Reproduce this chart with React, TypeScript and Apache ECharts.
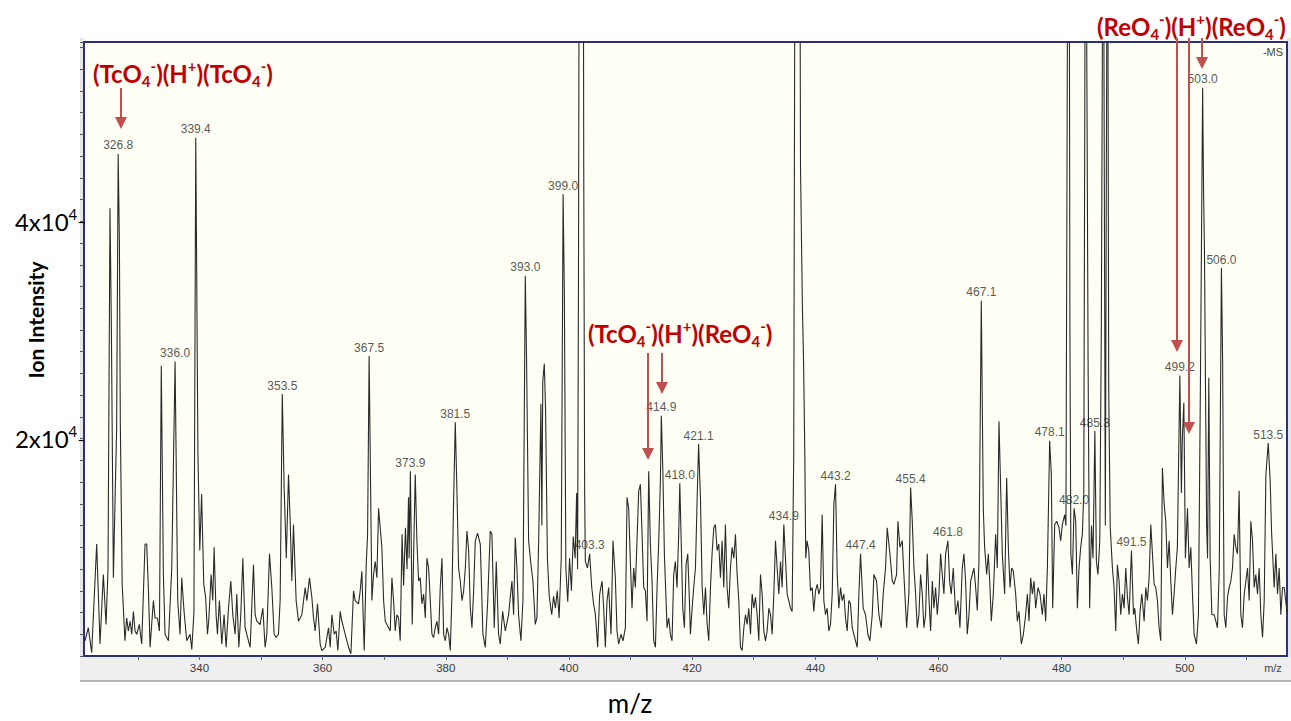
import React, { useEffect, useRef } from 'react';
import * as echarts from 'echarts';

// ---- spectrum (m/z, ion intensity) ----
const specA: [number, number][] = [
  [321.41,1400],[321.95,2600],[322.5,300],[323.31,10300],[323.85,1100],[324.39,7500],[324.83,2900],[325.15,8000],
  [325.47,41200],[325.7,29900],[326.02,7200],[326.55,21000],[326.8,46200],[327.0,38000],[327.15,21300],[327.45,6600],
  [327.9,1400],[328.18,3500],[328.45,2300],[328.73,3200],[329.0,2000],[329.27,4100],[329.54,2300],[329.81,2000],
  [330.24,2900],[330.62,1100],[331.16,10300],[331.43,10300],[331.7,6300],[331.98,800],[332.52,5100],[332.79,3500],
  [333.17,3500],[333.5,2300],[333.8,26700],[334.14,7500],[334.41,2000],[334.96,1400],[335.5,8100],[336.04,27100],
  [336.47,5100],[336.85,2000],[337.12,7200],[337.5,4100],[337.93,1400],[338.48,2000],[338.75,600],[339.1,4000],
  [339.4,47700],[339.75,18600],[340.05,9700],[340.35,14900],[340.7,6600],[341.0,5400],[341.3,2000],[341.5,3200],
  [341.89,7500],[342.16,5100],[342.38,10000],[342.7,3800],[342.92,2000],[343.24,5100],[343.62,1100],[344.0,3800],
  [344.33,800],[344.71,4400]
];
const specB: [number, number][] = [
  [345.09,6900],[345.41,3800],[345.79,2000],[346.06,5700],[346.39,800],[346.71,3800],[347.04,9000],[347.41,2600],
  [347.69,2000],[348.23,800],[348.77,8400],[349.04,3800],[349.31,3200],[349.85,2900],[350.29,4400],[350.66,800],
  [350.94,2000],[351.37,9400],[351.75,6300],[352.13,2000],[352.45,1700],[352.83,2000],[353.1,5100],[353.45,24100],
  [353.75,15500],[354.1,9000],[354.46,16700],[354.73,12400],[355.0,6900],[355.27,12100],[355.7,5100],[356.08,3200],
  [356.62,3800],[357.17,6300],[357.44,5100],[357.87,7200],[358.25,5400],[358.52,3500],[358.79,2300],[359.17,4800],
  [359.6,1100],[359.87,500],[360.42,800],[360.96,2600],[361.23,800],[361.5,3800],[361.88,2000],[362.2,2300],
  [362.47,500],[362.85,4100],[363.12,3200],[363.67,2000],[364.21,800],[364.59,200],[365.02,6000],[365.29,5100],
  [365.83,4800],[366.1,6000],[366.37,7800],[366.75,500],[367.08,8400],[367.3,11200],[367.55,27600],[368.0,5100],
  [368.27,7500],[368.54,8700],[368.81,7200],[369.08,13600],[369.35,11800],[369.62,10000],[369.9,5100]
];
const specC: [number, number][] = [
  [370.17,3200],[370.71,2600],[370.98,2300],[371.25,7200],[371.52,5100],[371.79,2300],[372.06,3800],[372.33,3500],
  [372.6,1400],[372.9,11200],[373.15,6500],[373.45,11800],[373.7,8000],[373.95,14600],[374.05,9000],[374.25,17000],
  [374.55,2900],[375.04,16700],[375.31,10600],[375.58,6900],[375.85,7200],[376.12,4800],[376.4,5700],[376.67,3500],
  [376.94,9000],[377.21,8100],[377.48,5100],[377.75,2000],[378.02,1700],[378.29,2600],[378.56,3200],[378.84,2000],
  [379.1,6300],[379.38,9000],[379.65,2000],[379.92,1400],[380.19,2600],[380.46,2000],[380.73,500],[381.0,5700],
  [381.27,14300],[381.54,21500],[381.81,15200],[382.08,8100],[382.35,6900],[382.63,5100],[382.9,6000],[383.17,8100],
  [383.44,11500],[383.71,9700],[383.98,4400],[384.25,2600],[384.52,6000],[384.79,10600],[385.16,11300],[385.6,10300],
  [386.03,2000],[386.41,800],[386.79,4800],[387.22,11500],[387.49,11200],[387.87,2600],[388.2,8700],[388.57,2000],
  [388.85,1100],[389.23,4100],[389.66,2300],[390.2,3800],[390.47,5400],[390.74,6900],[391.01,3800],[391.28,10900],
  [391.55,8100],[391.82,3800],[392.2,1400],[392.53,5100],[392.91,35000],[393.1,28000],[393.45,10600],[393.83,8400],
  [394.15,6900],[394.53,2900],[394.8,3500],[395.08,10600]
];
const specD: [number, number][] = [
  [395.45,23200],[395.6,12000],[395.75,25300],[396.0,26900],[396.2,22700],[396.5,9000],[396.8,5500],[397.2,3800],
  [397.5,5500],[397.8,4400],[398.1,6000],[398.4,3500],[398.75,9000],[399.05,42500],[399.25,33500],[399.5,8000],
  [399.8,5000],[400.1,9000],[400.4,6000],[400.7,11000],[401.0,9000],[401.25,15000],[401.4,8000],[401.55,35400],
  [401.7,80000],[402.3,80000],[402.4,45400],[402.55,15000],[402.66,8700],[403.0,8100],[403.36,9400],[403.7,6300],
  [404.0,4800],[404.3,3800],[404.66,800],[404.99,5700],[405.37,6900],[405.64,4400],[405.91,800],[406.18,5100],
  [406.45,6300],[406.83,2000],[407.15,10600],[407.53,7200],[407.8,2300],[408.07,1100],[408.45,2000],[408.78,1400],
  [409.16,2600],[409.43,14600],[409.7,13600],[409.97,8700],[410.24,4400],[410.51,8100],[410.78,6300],[411.05,10600],
  [411.33,15200],[411.6,15800],[411.87,11200],[412.14,6300],[412.41,6000],[412.68,3200],[412.95,17000],[413.22,10300],
  [413.49,6900],[413.76,1400],[414.04,800],[414.31,6300],[414.58,10600],[414.85,16100],[415.0,22100],[415.25,17000],
  [415.5,9300],[415.93,2600],[416.2,3500],[416.47,2000],[416.74,1400],[417.01,7500],[417.28,8700],[417.55,6300],
  [417.82,11200],[418.0,15900],[418.2,11200],[418.48,4400],[418.75,2600],[419.02,8400],[419.29,9400],[419.56,5100],
  [419.72,2000]
];
const specE: [number, number][] = [
  [420.0,4400],[420.26,6300],[420.54,8100],[420.81,14300],[421.05,19500],[421.35,14600],[421.63,6300],[421.9,3800],
  [422.17,6300],[422.44,2900],[422.7,1400],[422.98,6300],[423.24,9400],[423.52,11800],[423.78,12100],[424.06,9700],
  [424.33,10300],[424.6,7200],[424.87,10600],[425.14,6300],[425.41,12100],[425.68,6300],[425.95,4400],[426.22,8100],
  [426.5,10000],[426.77,9000],[427.04,11200],[427.31,7500],[427.58,5100],[427.85,800],[428.12,500],[428.4,2600],
  [428.67,3800],[428.94,2900],[429.2,4400],[429.48,2000],[429.75,5700],[430.02,4400],[430.29,5400],[430.56,3800],
  [430.83,1400],[431.1,7500],[431.37,5700],[431.64,2300],[431.91,1400],[432.18,2300],[432.46,4400],[432.73,3800],
  [433.0,2000],[433.27,5700],[433.54,10600],[433.81,8100],[434.08,5700],[434.35,8700],[434.62,6300],[434.89,12100],
  [435.16,9000],[435.43,5700],[435.7,5100],[435.97,4400],[436.24,4100],[436.5,18600],[436.75,80000],[437.45,80000],
  [437.6,45100],[437.9,32400],[438.1,27000],[438.3,18600],[438.45,9000],[438.67,10600],[438.94,9700],[439.22,6000],
  [439.49,6300],[439.76,4100],[440.04,6000],[440.31,6600],[440.58,5700],[440.85,6300],[441.12,13000],[441.39,5100],
  [441.66,3800],[441.93,4400],[442.2,2300],[442.47,2900],[442.75,5700],[443.02,14000],[443.29,15800],[443.56,7500],
  [443.83,4400],[444.1,6300],[444.37,5100],[444.64,5700],[444.91,3500],[445.18,2300],[445.45,5100],[445.72,4800],
  [446.0,2600],[446.27,2000],[446.54,1400],[446.81,800],[447.08,5700],[447.35,9400]
];
const specF: [number, number][] = [
  [447.78,4400],[448.16,3800],[448.54,2000],[448.87,1400],[449.25,3800],[449.52,7500],[449.95,6900],[450.33,3800],
  [450.71,2600],[451.03,5700],[451.41,8100],[451.68,11800],[452.12,9400],[452.5,6900],[452.77,6600],[453.2,7500],
  [453.42,12400],[453.74,10000],[454.12,10600],[454.39,7500],[454.83,2600],[455.2,5700],[455.48,15500],[455.75,12400],
  [456.02,8100],[456.29,5700],[456.56,2600],[456.83,3800],[457.1,7500],[457.37,5700],[457.64,2600],[457.91,3800],
  [458.18,9400],[458.45,5400],[458.73,2300],[459.0,6900],[459.27,4400],[459.54,6300],[459.81,3800],[460.08,5700],
  [460.35,9400],[460.62,7500],[460.89,5700],[461.16,9400],[461.54,10600],[461.81,6900],[462.08,5700],[462.41,8100],
  [462.79,3800],[463.17,5100],[463.49,2600],[463.87,8100],[464.14,9400],[464.41,6900],[464.68,2000],[464.96,3800],
  [465.23,6900],[465.5,7500],[465.77,8100],[466.04,6300],[466.31,4200],[466.58,8700],[466.96,32700],[467.28,13600],
  [467.5,10000],[467.83,7500],[468.1,9400],[468.37,6300],[468.58,3200],[468.91,5700],[469.29,11200],[469.56,8100],
  [469.83,21600],[470.1,15500],[470.37,9400],[470.75,5700],[471.08,16400],[471.35,10000],[471.62,6300],[471.89,8100],
  [472.16,7800],[472.54,5700],[472.81,3200],[473.08,4100],[473.46,1100],[473.79,2000],[474.16,3800],[474.44,5700],
  [474.71,3200],[474.98,7200],[475.25,5700],[475.52,6900],[475.79,4400],[476.17,6300],[476.49,5700],[476.87,3800],
  [477.14,5700],[477.41,3200],[477.69,8100]
];
const specG: [number, number][] = [
  [478.06,19800],[478.33,16700],[478.55,4400],[478.88,12100],[479.2,12400],[479.58,11800],[479.85,10600],[480.12,12100],
  [480.5,13000],[480.7,12000],[480.85,39400],[481.05,80000],[481.2,80000],[481.35,30000],[481.5,9400],[481.75,7500],
  [482.02,13600],[482.29,12400],[482.56,4400],[482.83,8100],[483.1,10000],[483.37,11200],[483.6,15000],[483.9,80000],
  [484.1,54000],[484.3,27000],[484.55,4400],[484.85,12000],[485.1,9000],[485.4,20700],[485.65,8700],[485.9,7500],
  [486.2,10600],[486.45,30000],[486.6,53000],[486.75,80000],[487.1,12000],[487.45,80000],[487.65,24400],[487.9,11800],
  [488.25,8100],[488.52,6300],[488.79,2300],[489.06,8400],[489.33,6900],[489.6,3800],[489.88,5700],[490.15,4400],
  [490.42,8100],[490.69,5400],[490.96,3800],[491.34,9700],[491.67,3800],[491.88,4400],[492.2,2300],[492.47,1100],
  [492.74,4100],[493.02,5700],[493.4,3200],[493.67,6300],[493.94,5100],[494.21,7200],[494.48,12100],[494.75,9400],
  [495.02,6600],[495.29,6300],[495.56,5100],[495.83,2600],[496.1,1400],[496.37,17300],[496.64,14100],[496.91,12400],
  [497.19,8100],[497.46,10600],[497.73,6900],[498.0,3800],[498.27,5700],[498.54,8100],[498.8,10000]
];
const specH: [number, number][] = [
  [499.2,25800],[499.45,15000],[499.6,20000],[499.85,23300],[500.1,9000],[500.44,13600],[500.71,8100],[500.98,10000],
  [501.25,5700],[501.52,2000],[501.9,1100],[502.22,3800],[502.55,25800],[502.9,52300],[503.05,43000],[503.2,37000],
  [503.35,25800],[503.55,12000],[503.7,9000],[503.9,25600],[504.12,9000],[504.4,3800],[504.77,3800],[505.04,3200],
  [505.31,2600],[505.6,8000],[505.95,35700],[506.15,27000],[506.3,12100],[506.4,3800],[506.67,2600],[506.94,5400],
  [507.21,6300],[507.48,6900],[507.75,8100],[508.02,11200],[508.29,10000],[508.56,9400],[508.83,15200],[509.1,3800],
  [509.37,2600],[509.65,5700],[509.92,6900],[510.19,8100],[510.46,5100],[510.73,12400],[511.0,10600],[511.27,6300],
  [511.54,7500],[511.81,5700],[512.08,8100],[512.35,3800],[512.63,1700],[512.9,5100],[513.17,16700],[513.55,19600],
  [513.87,16100],[514.09,11500],[514.52,6300],[514.79,9400],[515.06,5700],[515.33,8100],[515.6,3800],[515.87,6300],
  [516.15,6300],[516.6,4000]
];

// ---- labelled peaks ----
const peakMz = [326.8, 336.04, 339.4, 353.45, 367.55, 374.25, 381.54, 392.91, 399.05, 403.36, 415.0, 418.0, 421.05, 434.89, 443.29, 447.35, 455.48, 461.54, 466.96, 478.06, 482.02, 485.4, 491.34, 499.2, 502.9, 505.95, 513.55];
const peakInt = [46200, 27100, 47700, 24100, 27600, 17000, 21500, 35000, 42500, 9400, 22100, 15900, 19500, 12100, 15800, 9400, 15500, 10600, 32700, 19800, 13600, 20700, 9700, 25800, 52300, 35700, 19600];
const peakText = ['326.8','336.0','339.4','353.5','367.5','373.9','381.5','393.0','399.0','403.3','414.9','418.0','421.1','434.9','443.2','447.4','455.4','461.8','467.1','478.1','482.0','485.3','491.5','499.2','503.0','506.0','513.5'];

// ---- axes ----
const xTickValues = [330, 340, 350, 360, 370, 380, 390, 400, 410, 420, 430, 440, 450, 460, 470, 480, 490, 500, 510];
const xLabelValues = [340, 360, 380, 400, 420, 440, 460, 480, 500];
const yTickLabels = [
  { mant: '4x10', exp: '4', value: 40000 },
  { mant: '2x10', exp: '4', value: 20000 },
];
const X_MIN = 321.25;
const X_MAX = 516.6;
const Y_MAX = 56500;

const RED_TEXT = '#c00000';
const RED_ARROW = '#c0504d';
const NAVY = '#2b2f80';

const redRich = {
  m: { fontSize: 24, fontWeight: 'bold', fontFamily: 'Lato', fill: RED_TEXT, lineHeight: 30 },
  sub: { fontSize: 15, fontWeight: 'bold', fontFamily: 'Lato', fill: RED_TEXT, lineHeight: 14, verticalAlign: 'bottom' },
  sup: { fontSize: 15, fontWeight: 'bold', fontFamily: 'Lato', fill: RED_TEXT, lineHeight: 14, verticalAlign: 'top' },
};
const tcTc = '{m|(TcO}{sub|4}{sup|-}{m|)(H}{sup|+}{m|)(TcO}{sub|4}{sup|-}{m|)}';
const tcRe = '{m|(TcO}{sub|4}{sup|-}{m|)(H}{sup|+}{m|)(ReO}{sub|4}{sup|-}{m|)}';
const reRe = '{m|(ReO}{sub|4}{sup|-}{m|)(H}{sup|+}{m|)(ReO}{sub|4}{sup|-}{m|)}';

function arrow(x: number, y1: number, tip: number) {
  return [
    { type: 'line', shape: { x1: x, y1, x2: x, y2: tip - 10 }, style: { stroke: RED_ARROW, lineWidth: 2 }, z: 20 },
    { type: 'polygon', shape: { points: [[x - 6, tip - 12], [x + 6, tip - 12], [x, tip]] }, style: { fill: RED_ARROW }, z: 20 },
  ];
}

export default function App() {
  const ref = useRef<HTMLDivElement>(null);
  useEffect(() => {
    document.body.style.margin = '0';
    const chart = echarts.init(ref.current!, null, { renderer: 'svg' });
    const spectrum = [...specA, ...specB, ...specC, ...specD, ...specE, ...specF, ...specG, ...specH];
    const gridTop = 42;
    const gridBottom = 656;
    const yPx = (v: number) => gridBottom - (v / Y_MAX) * (gridBottom - gridTop);

    const yLabelGraphics = yTickLabels.map((t) => ({
      type: 'text',
      x: 86,
      y: yPx(t.value),
      z: 20,
      style: {
        text: `{a|${t.mant}}{s|${t.exp}}{d|–}`,
        align: 'right',
        verticalAlign: 'middle',
        rich: {
          a: { fontSize: 24, fontFamily: 'Lato', fill: '#000', lineHeight: 30 },
          s: { fontSize: 15, fontFamily: 'Lato', fill: '#000', lineHeight: 15, verticalAlign: 'top' },
          d: { fontSize: 15, fontFamily: 'Lato', fill: '#000', lineHeight: 30 },
        },
      },
    }));

    const option: any = {
      animation: false,
      backgroundColor: '#ffffff',
      grid: {
        left: 84, right: 4, top: gridTop, bottom: 721 - gridBottom,
        show: true, backgroundColor: '#fffff5', borderColor: NAVY, borderWidth: 2,
      },
      xAxis: {
        type: 'value', min: X_MIN, max: X_MAX, z: 5,
        axisLine: { show: false },
        splitLine: { show: false },
        axisTick: { show: true, customValues: xTickValues, length: 4, lineStyle: { color: '#666' } },
        axisLabel: {
          show: true, customValues: xLabelValues, color: '#3a3a3a', fontSize: 11.5,
          fontFamily: 'Liberation Sans', margin: 6,
        },
      },
      yAxis: {
        type: 'value', min: 0, max: Y_MAX, interval: 2000, z: 5,
        axisLine: { show: false },
        splitLine: { show: false },
        axisTick: { show: true, length: 4, lineStyle: { color: '#555' } },
        axisLabel: { show: false },
      },
      series: [
        {
          type: 'line', data: spectrum, showSymbol: false, symbol: 'none', clip: true,
          lineStyle: { color: '#2a2a2a', width: 1.1 }, z: 3,
        },
        {
          type: 'scatter', symbolSize: 1, itemStyle: { color: 'rgba(0,0,0,0)' }, z: 4,
          data: peakMz.map((m, i) => ({ value: [m, peakInt[i]], name: peakText[i] })),
          label: {
            show: true, position: 'top', distance: 2, formatter: '{b}',
            color: '#2a2a2a', fontSize: 12, fontFamily: 'Liberation Sans',
          },
        },
      ],
      graphic: [
        { type: 'rect', shape: { x: 80, y: 38, width: 4, height: 643 }, style: { fill: '#e6e6e6' }, z: -1 },
        { type: 'rect', shape: { x: 1287, y: 38, width: 4, height: 643 }, style: { fill: '#e6e6e6' }, z: -1 },
        { type: 'rect', shape: { x: 80, y: 657, width: 1211, height: 24 }, style: { fill: '#efefef' }, z: -1 },
        { type: 'line', shape: { x1: 80, y1: 681, x2: 1291, y2: 681 }, style: { stroke: '#a0a0a0', lineWidth: 1.5 }, z: -1 },
        { type: 'text', x: 1273, y: 668, z: 20, style: { text: 'm/z', fill: '#444', fontSize: 11, fontFamily: 'Liberation Sans', align: 'center', verticalAlign: 'middle' } },
        { type: 'text', x: 1273, y: 52, z: 20, style: { text: '-MS', fill: '#444', fontSize: 11, fontFamily: 'Liberation Sans', align: 'center', verticalAlign: 'middle' } },
        { type: 'text', x: 35, y: 320, rotation: Math.PI / 2, z: 20, style: { text: 'Ion Intensity', fill: '#000', fontSize: 21, fontWeight: 'bold', fontFamily: 'Lato', align: 'center', verticalAlign: 'middle' } },
        { type: 'text', x: 630, y: 703, z: 20, style: { text: 'm/z', fill: '#000', fontSize: 26, fontFamily: 'Lato', align: 'center', verticalAlign: 'middle' } },
        ...yLabelGraphics,
        { type: 'text', x: 93, y: 73, z: 20, style: { text: tcTc, rich: redRich, align: 'left', verticalAlign: 'middle' } },
        { type: 'text', x: 588, y: 333, z: 20, style: { text: tcRe, rich: redRich, align: 'left', verticalAlign: 'middle' } },
        { type: 'text', x: 1097, y: 26, z: 20, style: { text: reRe, rich: redRich, align: 'left', verticalAlign: 'middle' } },
        ...arrow(121, 88, 129),
        ...arrow(648, 353, 460),
        ...arrow(662, 353, 394),
        ...arrow(1177, 38, 352),
        ...arrow(1189, 38, 434),
        ...arrow(1202, 38, 69),
      ],
    };
    chart.setOption(option);
    return () => chart.dispose();
  }, []);
  return <div ref={ref} style={{ width: 1291, height: 721 }} />;
}
